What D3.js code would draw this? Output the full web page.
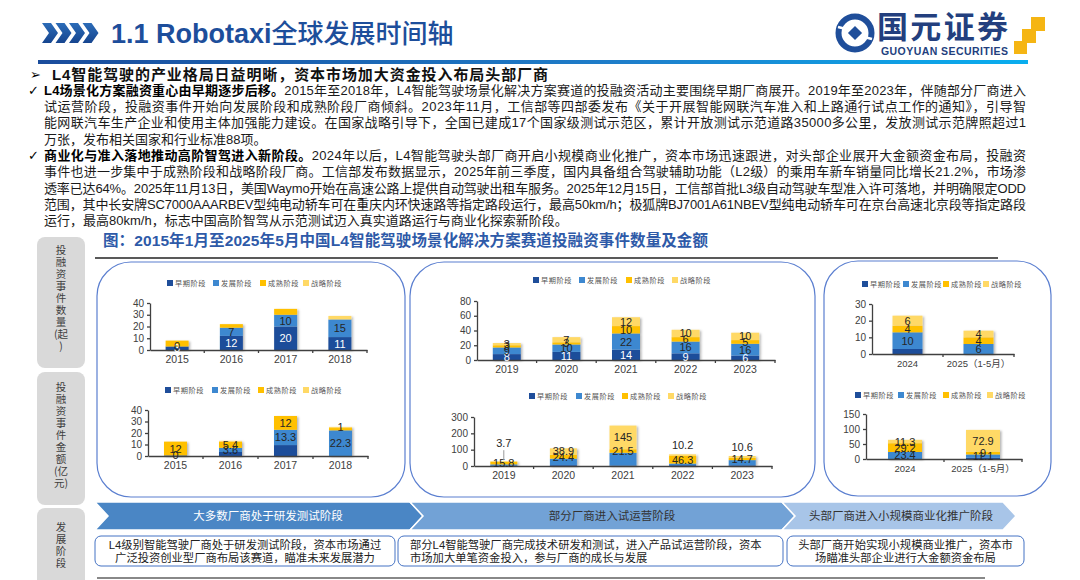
<html>
<head>
<meta charset="utf-8">
<script src="https://cdn.jsdelivr.net/npm/d3@7/dist/d3.min.js"></script>
<style>
  body { margin:0; background:#fff; }
  svg text { font-family: 'Liberation Sans', 'Noto Sans CJK SC', sans-serif; }
  .tick text { font-size:10px; fill:#404040; }
  .domain, .tick line { stroke:#404040; stroke-width:1.3; }
  .leg { font-family:'Noto Sans CJK SC', sans-serif !important; font-size:7.2px; fill:#555; letter-spacing:0.6px; }
</style>
</head>
<body>
<svg id="slide" width="1080" height="580"></svg>
<script>
// ---- data ----
var stageNames  = ["早期阶段", "发展阶段", "成熟阶段", "战略阶段"]
var stageColors = ["#1F4E9A", "#3D88D0", "#FFC000", "#FFD966"]

var years1 = ["2015", "2016", "2017", "2018"]
var years2 = ["2019", "2020", "2021", "2022", "2023"]
var years3 = ["2024", "2025（1-5月）"]

// each row: [早期, 发展, 成熟, 战略]
var count1  = [[3, 0, 5, 0], [12, 7, 3, 0], [20, 10, 5, 0], [11, 15, 0, 3]]
var amount1 = [[0.5, 0, 12, 0], [3.5, 3.6, 5.4, 0.7], [9.5, 13.3, 12, 0], [0, 22.3, 2, 1]]
var count2  = [[8, 9, 3, 3], [11, 10, 3, 7], [14, 22, 10, 12], [9, 16, 6, 10], [6, 16, 5, 10]]
var amount2 = [[3, 7, 15.8, 3.7], [5, 40, 24.4, 38.9], [3, 78, 21.5, 145], [5, 10, 46.3, 10.2], [4, 32, 14.7, 10.6]]
var count3  = [[3, 10, 4, 6], [0, 6, 4, 4]]
var amount3 = [[0, 23.4, 29.2, 11.3], [4, 11.1, 9, 72.9]]

// which value labels are shown: 1 inside, 2 above bar, 3 above bar with leader line
var count1Show  = [[1, 1, 0, 0], [1, 1, 0, 0], [1, 1, 0, 0], [1, 1, 0, 0]]
var amount1Show = [[0, 1, 1, 0], [0, 1, 1, 0], [0, 1, 1, 0], [0, 1, 0, 1]]
var count2Show  = [[1, 1, 1, 1], [1, 1, 1, 1], [1, 1, 1, 1], [1, 1, 1, 1], [1, 1, 1, 1]]
var amount2Show = [[0, 0, 1, 3], [0, 0, 1, 1], [0, 0, 1, 1], [0, 0, 1, 2], [0, 0, 1, 2]]
var count3Show  = [[0, 1, 1, 1], [0, 1, 1, 1]]
var amount3Show = [[0, 1, 1, 1], [0, 1, 1, 1]]

var para1 = [
  [["L4场景化方案融资重心由早期逐步后移。", 1], ["2015年至2018年，L4智能驾驶场景化解决方案赛道的投融资活动主要围绕早期厂商展开。2019年至2023年，伴随部分厂商进入", 0]],
  [["试运营阶段，投融资事件开始向发展阶段和成熟阶段厂商倾斜。2023年11月，工信部等四部委发布《关于开展智能网联汽车准入和上路通行试点工作的通知》，引导智", 0]],
  [["能网联汽车生产企业和使用主体加强能力建设。在国家战略引导下，全国已建成17个国家级测试示范区，累计开放测试示范道路35000多公里，发放测试示范牌照超过1", 0]],
  [["万张，发布相关国家和行业标准88项。", 0]]
]
var para2 = [
  [["商业化与准入落地推动高阶智驾进入新阶段。", 1], ["2024年以后，L4智能驾驶头部厂商开启小规模商业化推广，资本市场迅速跟进，对头部企业展开大金额资金布局，投融资", 0]],
  [["事件也进一步集中于成熟阶段和战略阶段厂商。工信部发布数据显示，2025年前三季度，国内具备组合驾驶辅助功能（L2级）的乘用车新车销量同比增长21.2%，市场渗", 0]],
  [["透率已达64%。2025年11月13日，美国Waymo开始在高速公路上提供自动驾驶出租车服务。2025年12月15日，工信部首批L3级自动驾驶车型准入许可落地，并明确限定ODD", 0]],
  [["范围，其中长安牌SC7000AAARBEV型纯电动轿车可在重庆内环快速路等指定路段运行，最高50km/h；极狐牌BJ7001A61NBEV型纯电动轿车可在京台高速北京段等指定路段", 0]],
  [["运行，最高80km/h，标志中国高阶智驾从示范测试迈入真实道路运行与商业化探索新阶段。", 0]]
]
var stageTitles = ["大多数厂商处于研发测试阶段", "部分厂商进入试运营阶段", "头部厂商进入小规模商业化推广阶段"]
var stageTexts = [
  ["L4级别智能驾驶厂商处于研发测试阶段，资本市场通过", "广泛投资创业型厂商布局该赛道，瞄准未来发展潜力"],
  ["部分L4智能驾驶厂商完成技术研发和测试，进入产品试运营阶段，资本", "市场加大单笔资金投入，参与厂商的成长与发展"],
  ["头部厂商开始实现小规模商业推广，资本市", "场瞄准头部企业进行大金额资金布局"]
]
var sideLabels = [
  ["投", "融", "资", "事", "件", "数", "量", "(起", ")"],
  ["投", "融", "资", "事", "件", "金", "额", "(亿", "元)"],
  ["发", "展", "阶", "段"]
]

var svg = d3.select("#slide")
var defs = svg.append("defs")

var f = defs.append("filter").attr("id", "shadow").attr("x", "-30%").attr("y", "-10%").attr("width", "160%").attr("height", "130%")
f.append("feDropShadow").attr("dx", 1.5).attr("dy", 1).attr("stdDeviation", 1)
  .attr("flood-color", "#000").attr("flood-opacity", 0.3)

var lg = defs.append("linearGradient").attr("id", "rule")
lg.append("stop").attr("offset", "0%").attr("stop-color", "#1A4C9C")
lg.append("stop").attr("offset", "60%").attr("stop-color", "#1E7FCB")
lg.append("stop").attr("offset", "100%").attr("stop-color", "#09AEEF")

var cg = defs.append("linearGradient").attr("id", "chev").attr("x1", 0).attr("x2", 0).attr("y1", 0).attr("y2", 1)
cg.append("stop").attr("offset", "0%").attr("stop-color", "#2C6CB8")
cg.append("stop").attr("offset", "100%").attr("stop-color", "#16458F")

// ---- header ----
d3.range(4).forEach(function(i) {
  var x = 42 + i * 13.5, y = 23
  svg.append("polygon")
    .attr("points", [[x, y], [x + 9, y], [x + 16, y + 10], [x + 9, y + 20], [x, y + 20], [x + 7, y + 10]].join(" "))
    .attr("fill", "url(#chev)")
})
var title = svg.append("text").attr("x", 111).attr("y", 43).attr("fill", "#1D4E9B")
title.append("tspan").attr("font-size", 27).attr("font-weight", "bold").text("1.1 Robotaxi")
title.append("tspan").attr("font-size", 26).attr("font-weight", 500)
  .style("font-family", "'Noto Sans CJK SC'").text("全球发展时间轴")

svg.append("rect").attr("x", 38).attr("y", 60).attr("width", 990).attr("height", 4).attr("fill", "url(#rule)")

// logo
svg.append("circle").attr("cx", 855).attr("cy", 33).attr("r", 16.5)
  .attr("fill", "none").attr("stroke", "#1F4E9A").attr("stroke-width", 6)
svg.append("line").attr("x1", 838).attr("y1", 27).attr("x2", 846).attr("y2", 29).attr("stroke", "#fff").attr("stroke-width", 2.5)
svg.append("line").attr("x1", 872).attr("y1", 39).attr("x2", 864).attr("y2", 37).attr("stroke", "#fff").attr("stroke-width", 2.5)
svg.append("rect").attr("x", -5).attr("y", -5).attr("width", 10).attr("height", 10)
  .attr("transform", "translate(855,33) rotate(45)").attr("fill", "#1F4E9A")
svg.append("text").attr("x", 877).attr("y", 38).attr("font-size", 31).attr("font-weight", "bold")
  .attr("fill", "#233F7E").style("font-family", "'Noto Sans CJK SC'").attr("textLength", 131).text("国元证券")
svg.append("text").attr("x", 881).attr("y", 55).attr("font-size", 10.5).attr("font-weight", "bold")
  .attr("fill", "#233F7E").attr("textLength", 127).text("GUOYUAN SECURITIES")
;[[1031, 17, 14], [1022, 29, 14], [1014, 41, 13]].forEach(function(s) {
  svg.append("rect").attr("x", s[0]).attr("y", s[1]).attr("width", s[2]).attr("height", s[2]).attr("fill", "#F5B513")
})

// ---- body text ----
svg.append("text").attr("x", 30).attr("y", 79).attr("font-size", 13).style("font-family", "'DejaVu Sans'").text("➢")
svg.append("text").attr("x", 52).attr("y", 79.5).attr("font-size", 15).attr("font-weight", "bold")
  .attr("fill", "#111").attr("textLength", 496).attr("lengthAdjust", "spacing")
  .text("L4智能驾驶的产业格局日益明晰，资本市场加大资金投入布局头部厂商")

function paragraph(lines, y0) {
  svg.append("text").attr("x", 28).attr("y", y0).attr("font-size", 13).style("font-family", "'DejaVu Sans'").text("✓")
  lines.forEach(function(line, i) {
    var t = svg.append("text").attr("x", 44).attr("y", y0 + i * 16.35).attr("font-size", 13).attr("fill", "#1a1a1a")
    line.forEach(function(seg) {
      t.append("tspan").attr("font-weight", seg[1] ? "bold" : "normal").attr("fill", seg[1] ? "#000" : "#1a1a1a").text(seg[0])
    })
    if (i < lines.length - 1) t.attr("textLength", 982).attr("lengthAdjust", "spacing")
  })
}
paragraph(para1, 94.5)
paragraph(para2, 159.8)

svg.append("text").attr("x", 103).attr("y", 245.5).attr("font-size", 15.5).attr("font-weight", "bold")
  .attr("fill", "#2E5AA8").attr("textLength", 605).attr("lengthAdjust", "spacing")
  .text("图：2015年1月至2025年5月中国L4智能驾驶场景化解决方案赛道投融资事件数量及金额")

// ---- side labels ----
var sideBoxes = [[237, 131, 250], [372, 133, 387], [508, 90, 527]]
sideBoxes.forEach(function(b, k) {
  svg.append("rect").attr("x", 37).attr("y", b[0]).attr("width", 48).attr("height", b[1]).attr("rx", 8).attr("fill", "#D9D9D9")
  sideLabels[k].forEach(function(c, i) {
    svg.append("text").attr("x", 61).attr("y", b[2] + i * 12 + 4).attr("text-anchor", "middle")
      .attr("font-size", 10.5).attr("fill", "#404040").style("font-family", "'Noto Sans CJK SC'").text(c)
  })
})

svg.append("line").attr("x1", 95).attr("x2", 998).attr("y1", 258).attr("y2", 258).attr("stroke", "#222").attr("stroke-width", 1.5)

// ---- panels ----
;[[97, 262, 308], [410, 262, 405], [824, 261, 227]].forEach(function(p) {
  svg.append("rect").attr("x", p[0]).attr("y", p[1]).attr("width", p[2]).attr("height", 235).attr("rx", 34)
    .attr("fill", "#fff").attr("stroke", "#5B7FD0").attr("stroke-width", 1.2)
})

// ---- charts ----
function stackedChart(cfg) {
  var g = svg.append("g")
  var x = d3.scaleBand().domain(cfg.cats).range([cfg.x0, cfg.x1])
  var y = d3.scaleLinear().domain([0, cfg.max]).range([cfg.y0, cfg.y1])

  stageNames.forEach(function(n, i) {
    g.append("rect").attr("x", cfg.legX[i]).attr("y", cfg.legY - 3).attr("width", 6).attr("height", 6).attr("fill", stageColors[i])
    g.append("text").attr("class", "leg").attr("x", cfg.legX[i] + 8).attr("y", cfg.legY + 2.8).text(n)
  })

  cfg.rows.forEach(function(row, j) {
    var cx = x(cfg.cats[j]) + x.bandwidth() / 2, acc = 0
    var bar = g.append("g").attr("filter", "url(#shadow)")
    row.forEach(function(v, i) {
      if (v > 0) bar.append("rect").attr("x", cx - cfg.barW / 2).attr("y", y(acc + v))
        .attr("width", cfg.barW).attr("height", y(acc) - y(acc + v)).attr("fill", stageColors[i])
      acc += v
    })
  })

  g.append("g").attr("transform", "translate(" + cfg.x0 + ",0)")
    .call(d3.axisLeft(y).tickValues(cfg.ticks).tickSize(3).tickSizeOuter(0).tickPadding(3))
  var xa = g.append("g").attr("transform", "translate(0," + cfg.y0 + ")")
    .call(d3.axisBottom(x).tickSize(0).tickSizeOuter(0).tickPadding(6))
  xa.selectAll(".tick text").style("font-size", cfg.xFont + "px")
  d3.range(1, cfg.cats.length + 1).forEach(function(k) {
    var bx = cfg.x0 + k * x.step()
    xa.append("line").attr("x1", bx).attr("x2", bx).attr("y1", 0).attr("y2", 3).attr("stroke", "#404040").attr("stroke-width", 1.3)
  })

  cfg.rows.forEach(function(row, j) {
    var cx = x(cfg.cats[j]) + x.bandwidth() / 2, acc = 0
    row.forEach(function(v, i) {
      var s = cfg.show[j][i]
      if (s) {
        var ly = y(acc + v / 2)
        if (s == 2) ly = y(acc + v) - 9
        if (s == 3) {
          ly = y(acc + v) - 18
          g.append("line").attr("x1", cx).attr("x2", cx).attr("y1", ly + 7).attr("y2", y(acc + v) - 1)
            .attr("stroke", "#999").attr("stroke-width", 1)
        }
        g.append("text").attr("x", cx).attr("y", ly + 4).attr("text-anchor", "middle").attr("font-size", 11)
          .attr("fill", i == 0 && s == 1 ? "#fff" : "#262626").text(String(v))
      }
      acc += v
    })
  })
}

stackedChart({cats: years1, rows: count1, show: count1Show, x0: 150, x1: 367, y0: 350, y1: 303, max: 40,
  ticks: [0, 10, 20, 30, 40], barW: 23, legY: 283, legX: [167, 213, 260, 303], xFont: 10.5})
stackedChart({cats: years1, rows: amount1, show: amount1Show, x0: 148, x1: 368, y0: 456, y1: 410, max: 40,
  ticks: [0, 10, 20, 30, 40], barW: 23, legY: 390, legX: [165, 212, 258, 303], xFont: 10.5})
stackedChart({cats: years2, rows: count2, show: count2Show, x0: 477, x1: 775, y0: 360, y1: 301, max: 80,
  ticks: [0, 20, 40, 60, 80], barW: 28, legY: 280, legX: [533, 579, 626, 672], xFont: 10.5})
stackedChart({cats: years2, rows: amount2, show: amount2Show, x0: 474, x1: 772, y0: 466, y1: 417, max: 300,
  ticks: [0, 100, 200, 300], barW: 27, legY: 396, legX: [529, 576, 622, 668], xFont: 10.5})
stackedChart({cats: years3, rows: count3, show: count3Show, x0: 872, x1: 1014, y0: 354, y1: 304, max: 30,
  ticks: [0, 10, 20, 30], barW: 30, legY: 284, legX: [862, 903, 943, 983], xFont: 9.5})
stackedChart({cats: years3, rows: amount3, show: amount3Show, x0: 866, x1: 1022, y0: 459, y1: 414, max: 150,
  ticks: [0, 50, 100, 150], barW: 34, legY: 395, legX: [855, 898, 943, 987], xFont: 9.5})

// ---- stage arrows ----
var arrows = [[95, 410, "#4A86C5", "#fff", 268], [410, 782, "#72A2D6", "#333", 612], [782, 1003, "#A8C5E8", "#333", 901]]
arrows.forEach(function(a, i) {
  var pts = [[a[0], 502], [a[1], 502], [a[1] + 13, 516], [a[1], 530], [a[0], 530], [a[0] + 13, 516]]
  svg.append("polygon").attr("points", pts.join(" ")).attr("fill", a[2]).attr("stroke", "#fff").attr("stroke-width", 1.5)
  svg.append("text").attr("x", a[4]).attr("y", 520).attr("text-anchor", "middle").attr("font-size", 11.5)
    .attr("fill", a[3]).style("font-family", "'Noto Sans CJK SC'").text(stageTitles[i])
})

var boxes = [[95, 300, "middle"], [398, 385, "start"], [787, 237, "middle"]]
boxes.forEach(function(b, i) {
  svg.append("rect").attr("x", b[0]).attr("y", 536).attr("width", b[1]).attr("height", 30).attr("rx", 6)
    .attr("fill", "#fff").attr("stroke", "#4472C4").attr("stroke-width", 1)
  stageTexts[i].forEach(function(t, k) {
    svg.append("text").attr("x", b[2] == "middle" ? b[0] + b[1] / 2 : b[0] + 12).attr("y", 549 + k * 13)
      .attr("text-anchor", b[2]).attr("font-size", 11.3).attr("fill", "#222").text(t)
  })
})

svg.append("line").attr("x1", 97).attr("x2", 985).attr("y1", 578).attr("y2", 578).attr("stroke", "#888").attr("stroke-width", 2)
</script>
</body>
</html>
